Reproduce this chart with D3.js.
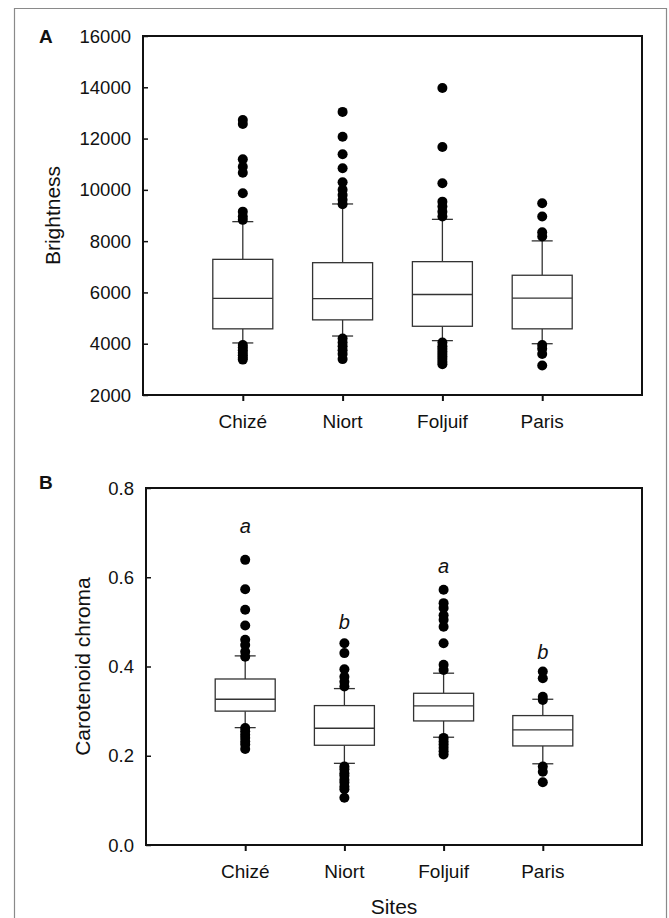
<!DOCTYPE html>
<html lang="en">
<head>
    <meta charset="UTF-8">
    <title>Brightness and carotenoid chroma by site</title>
    <script src="https://d3js.org/d3.v7.min.js"></script>
    <style>
        body{
            margin: 0;
            background: white;
        }
        svg text{
            font-family: "Liberation Sans", Arial, sans-serif;
            fill: #111;
        }
    </style>
</head>
<body>
<svg></svg>
<script>
    const width = 669;
    const height = 918;

    // sites (x categories)
    const sites = ["Chizé", "Niort", "Foljuif", "Paris"];

    // panel A - brightness
    const brightTicks = [2000, 4000, 6000, 8000, 10000, 12000, 14000, 16000];
    const brightQ1 = [4580, 4930, 4680, 4580];
    const brightMedian = [5770, 5760, 5920, 5780];
    const brightQ3 = [7290, 7160, 7200, 6670];
    const brightLowCap = [4030, 4300, 4120, 4000];
    const brightHighCap = [8760, 9450, 8850, 8010];
    const brightOutliers = [
        [12720, 12570, 11190, 10900, 10670, 9870, 9150, 8960, 8830, 3950, 3850, 3750, 3650, 3550, 3450, 3380],
        [13040, 12070, 11390, 10840, 10300, 10000, 9800, 9610, 9440, 4200, 4050, 3900, 3750, 3600, 3400],
        [13970, 11670, 10260, 9540, 9350, 9150, 8960, 4050, 3900, 3800, 3700, 3600, 3500, 3400, 3300, 3200],
        [9480, 8960, 8350, 8180, 3950, 3800, 3600, 3150]
    ];

    // panel B - carotenoid chroma
    const chromaTicks = [0.0, 0.2, 0.4, 0.6, 0.8];
    const chromaQ1 = [0.300, 0.2235, 0.278, 0.222];
    const chromaMedian = [0.3266, 0.2616, 0.3117, 0.258];
    const chromaQ3 = [0.372, 0.3124, 0.340, 0.290];
    const chromaLowCap = [0.263, 0.183, 0.2415, 0.182];
    const chromaHighCap = [0.4238, 0.3505, 0.385, 0.3266];
    const chromaOutliers = [
        [0.639, 0.573, 0.527, 0.492, 0.460, 0.448, 0.433, 0.422, 0.262, 0.255, 0.247, 0.240, 0.232, 0.225, 0.215],
        [0.452, 0.430, 0.394, 0.377, 0.366, 0.355, 0.176, 0.170, 0.161, 0.155, 0.146, 0.140, 0.131, 0.125, 0.106],
        [0.572, 0.542, 0.531, 0.515, 0.5045, 0.489, 0.452, 0.404, 0.392, 0.240, 0.232, 0.225, 0.218, 0.210, 0.203],
        [0.3886, 0.3737, 0.332, 0.325, 0.176, 0.164, 0.1405]
    ];
    const chromaLetters = ["a", "b", "a", "b"];
    const chromaLetterAt = [0.700, 0.484, 0.609, 0.416];

    const svg = d3.select("svg")
        .attr("width", width)
        .attr("height", height);

    // thin figure frame
    svg.append("path")
        .attr("d", `M14.5,${height}V8.5H666.5V${height}`)
        .attr("fill", "none")
        .attr("stroke", "#8a8a8a")
        .attr("stroke-width", 1.2);

    function drawPanel(o){
        const x = d3.scaleLinear().domain([0, 5]).range([o.left, o.right]);
        const y = d3.scaleLinear().domain(o.domain).range([o.bottom, o.top]);
        const g = svg.append("g");

        // y axis, ticks pointing inwards
        g.append("g")
            .attr("transform", `translate(${o.left},0)`)
            .call(d3.axisRight(y).tickValues(o.ticks).tickSize(5).tickFormat(""))
            .call(a => a.select(".domain").remove())
            .call(a => a.selectAll("line").attr("stroke", "#111").attr("stroke-width", 1.5));
        g.selectAll(".ylab")
            .data(o.ticks)
            .enter()
            .append("text")
            .attr("x", o.left - 12)
            .attr("y", d => y(d) + 6.5)
            .attr("text-anchor", "end")
            .attr("font-size", 18.5)
            .text(o.fmt);

        // x axis, ticks pointing outwards
        g.append("g")
            .attr("transform", `translate(0,${o.bottom})`)
            .call(d3.axisBottom(x).tickValues([1, 2, 3, 4]).tickSize(6).tickFormat(""))
            .call(a => a.select(".domain").remove())
            .call(a => a.selectAll("line").attr("stroke", "#111").attr("stroke-width", 2));
        g.selectAll(".xlab")
            .data(sites)
            .enter()
            .append("text")
            .attr("x", (d, i) => x(i + 1))
            .attr("y", o.bottom + 33)
            .attr("text-anchor", "middle")
            .attr("font-size", 19)
            .text(d => d);

        // boxes
        const boxW = 60, capW = 21;
        const box = g.selectAll(".box")
            .data(sites)
            .enter()
            .append("g")
            .attr("stroke", "#333")
            .attr("stroke-width", 1.3)
            .attr("fill", "none");
        box.append("line")
            .attr("x1", (d, i) => x(i + 1)).attr("x2", (d, i) => x(i + 1))
            .attr("y1", (d, i) => y(o.q3[i])).attr("y2", (d, i) => y(o.hi[i]));
        box.append("line")
            .attr("x1", (d, i) => x(i + 1)).attr("x2", (d, i) => x(i + 1))
            .attr("y1", (d, i) => y(o.q1[i])).attr("y2", (d, i) => y(o.lo[i]));
        box.append("line")
            .attr("x1", (d, i) => x(i + 1) - capW / 2).attr("x2", (d, i) => x(i + 1) + capW / 2)
            .attr("y1", (d, i) => y(o.hi[i])).attr("y2", (d, i) => y(o.hi[i]));
        box.append("line")
            .attr("x1", (d, i) => x(i + 1) - capW / 2).attr("x2", (d, i) => x(i + 1) + capW / 2)
            .attr("y1", (d, i) => y(o.lo[i])).attr("y2", (d, i) => y(o.lo[i]));
        box.append("rect")
            .attr("x", (d, i) => x(i + 1) - boxW / 2)
            .attr("width", boxW)
            .attr("y", (d, i) => y(o.q3[i]))
            .attr("height", (d, i) => y(o.q1[i]) - y(o.q3[i]))
            .attr("fill", "white");
        box.append("line")
            .attr("x1", (d, i) => x(i + 1) - boxW / 2).attr("x2", (d, i) => x(i + 1) + boxW / 2)
            .attr("y1", (d, i) => y(o.med[i])).attr("y2", (d, i) => y(o.med[i]));

        // outliers
        o.out.forEach((vals, i) => {
            g.selectAll(null)
                .data(vals)
                .enter()
                .append("circle")
                .attr("cx", x(i + 1))
                .attr("cy", d => y(d))
                .attr("r", 5)
                .attr("fill", "#000");
        });

        // significance letters
        if (o.letters){
            g.selectAll(".sig")
                .data(o.letters)
                .enter()
                .append("text")
                .attr("x", (d, i) => x(i + 1))
                .attr("y", (d, i) => y(o.letterAt[i]))
                .attr("text-anchor", "middle")
                .attr("font-size", 20)
                .attr("font-style", "italic")
                .text(d => d);
        }

        // frame of the plot
        g.append("rect")
            .attr("x", o.left)
            .attr("y", o.top)
            .attr("width", o.right - o.left)
            .attr("height", o.bottom - o.top)
            .attr("fill", "none")
            .attr("stroke", "#111")
            .attr("stroke-width", 2);

        // y title
        g.append("text")
            .attr("transform", `translate(${o.titleX},${(o.top + o.bottom) / 2}) rotate(-90)`)
            .attr("text-anchor", "middle")
            .attr("font-size", 21)
            .text(o.title);

        // panel letter
        g.append("text")
            .attr("x", 39)
            .attr("y", o.letterY)
            .attr("font-size", 19)
            .attr("font-weight", "bold")
            .text(o.panel);
        return x;
    }

    drawPanel({
        left: 143, right: 642, top: 36, bottom: 395,
        domain: [2000, 16000], ticks: brightTicks, fmt: d => d,
        q1: brightQ1, med: brightMedian, q3: brightQ3,
        lo: brightLowCap, hi: brightHighCap, out: brightOutliers,
        title: "Brightness", titleX: 60, panel: "A", letterY: 43
    });

    const xb = drawPanel({
        left: 146, right: 642, top: 488, bottom: 845,
        domain: [0, 0.8], ticks: chromaTicks, fmt: d3.format(".1f"),
        q1: chromaQ1, med: chromaMedian, q3: chromaQ3,
        lo: chromaLowCap, hi: chromaHighCap, out: chromaOutliers,
        letters: chromaLetters, letterAt: chromaLetterAt,
        title: "Carotenoid chroma", titleX: 90, panel: "B", letterY: 489
    });

    svg.append("text")
        .attr("x", (xb(0) + xb(5)) / 2)
        .attr("y", 914)
        .attr("text-anchor", "middle")
        .attr("font-size", 21)
        .text("Sites");
</script>
</body>
</html>
